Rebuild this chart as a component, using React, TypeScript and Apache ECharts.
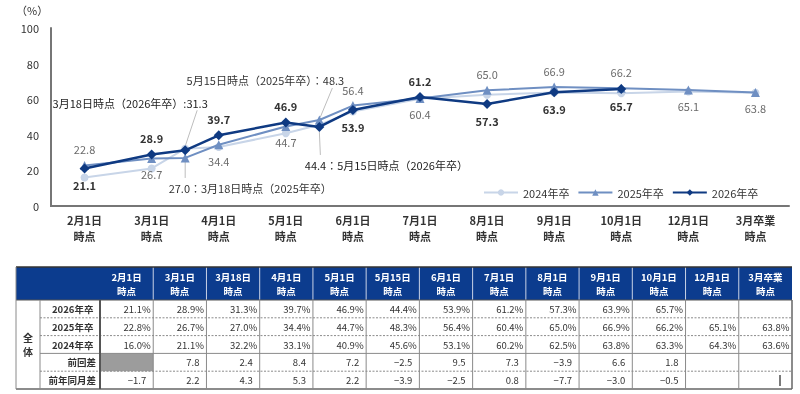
import React, { useEffect, useRef } from "react";
import * as echarts from "echarts";

// ---- data ----
const axisCategories = [
  "2月1日\n時点", "3月1日\n時点", "4月1日\n時点", "5月1日\n時点", "6月1日\n時点", "7月1日\n時点",
  "8月1日\n時点", "9月1日\n時点", "10月1日\n時点", "12月1日\n時点", "3月卒業\n時点",
];
const surveyPoints = [
  "2月1日\n時点", "3月1日\n時点", "3月18日\n時点", "4月1日\n時点", "5月1日\n時点", "5月15日\n時点",
  "6月1日\n時点", "7月1日\n時点", "8月1日\n時点", "9月1日\n時点", "10月1日\n時点", "12月1日\n時点", "3月卒業\n時点",
];
// survey dates placed on the category scale (3/18 and 5/15 fall between categories)
const surveyPos = [0, 1, 1.5, 2, 3, 3.5, 4, 5, 6, 7, 8, 9, 10];
const seriesNames = ["2024年卒", "2025年卒", "2026年卒"];
const grad2024: (number | null)[] = [16.0, 21.1, 32.2, 33.1, 40.9, 45.6, 53.1, 60.2, 62.5, 63.8, 63.3, 64.3, 63.6];
const grad2025: (number | null)[] = [22.8, 26.7, 27.0, 34.4, 44.7, 48.3, 56.4, 60.4, 65.0, 66.9, 66.2, 65.1, 63.8];
const grad2026: (number | null)[] = [21.1, 28.9, 31.3, 39.7, 46.9, 44.4, 53.9, 61.2, 57.3, 63.9, 65.7, null, null];
const diffPrev: (number | null)[] = [null, 7.8, 2.4, 8.4, 7.2, -2.5, 9.5, 7.3, -3.9, 6.6, 1.8, null, null];
const diffYoY: (number | null)[] = [-1.7, 2.2, 4.3, 5.3, 2.2, -3.9, -2.5, 0.8, -7.7, -3.0, -0.5, null, null];
const yTicks = { min: 0, max: 100, step: 20 };
const tableGroup = "全体";
const rowLabels = ["2026年卒", "2025年卒", "2024年卒", "前回差", "前年同月差"];

const FONT = '"Noto Sans CJK JP", "Noto Sans", sans-serif';
const C2024 = "#c8d5e8";
const C2025 = "#6f8fc2";
const C2026 = "#0f3a82";
const AXIS = "#767676";

export default function App() {
  const ref = useRef<HTMLDivElement>(null);

  useEffect(() => {
    document.body.style.margin = "0";
    const chart = echarts.init(ref.current!, null, { renderer: "svg" });

    // label layout (not data)
    const pos2026 = ["bottom", "top", "ann", "top", "top", "ann", "bottom", "top", "bottom", "bottom", "bottom"];
    const pos2025 = ["top", "bottom", "ann", "bottom", "bottom", "ann", "top", "bottom", "top", "top", "top", "bottom", "bottom"];

    const fmt = (v: number) => v.toFixed(1);

    const data2024 = grad2024
      .map((v, i) => (v == null ? null : { value: [surveyPos[i], v] }))
      .filter(Boolean);

    const data2026 = grad2026
      .map((v, i) => {
        if (v == null) return null;
        const base: any = {
          show: true, fontSize: 11, fontFamily: FONT, color: "#333", fontWeight: "bold",
          distance: 6, formatter: fmt(v),
        };
        if (i === 2) {
          Object.assign(base, { position: "top", offset: [-55, -31], formatter: `3月18日時点（2026年卒）:${fmt(v)}`, fontWeight: "normal", color: "#222" });
        } else if (i === 5) {
          Object.assign(base, { position: "bottom", offset: [67, 22], formatter: `${fmt(v)}：5月15日時点（2026年卒）`, fontWeight: "normal", color: "#222" });
        } else {
          base.position = pos2026[i];
        }
        return { value: [surveyPos[i], v], label: base };
      })
      .filter(Boolean);

    const data2025 = grad2025
      .map((v, i) => {
        if (v == null) return null;
        const base: any = {
          show: true, fontSize: 11, fontFamily: FONT, color: "#6b6b6b", distance: 6, formatter: fmt(v),
        };
        if (i === 2) {
          Object.assign(base, { position: "bottom", offset: [65, 14], formatter: `${fmt(v)}：3月18日時点（2025年卒）`, color: "#333" });
        } else if (i === 5) {
          Object.assign(base, { position: "top", offset: [-54, -24], formatter: `5月15日時点（2025年卒）：${fmt(v)}`, color: "#333" });
        } else {
          base.position = pos2025[i];
        }
        return { value: [surveyPos[i], v], label: base };
      })
      .filter(Boolean);

    const option: any = {
      animation: false,
      textStyle: { fontFamily: FONT },
      grid: { left: 51, right: 11, top: 28, bottom: 188 },
      legend: {
        data: seriesNames,
        left: 478,
        top: 182,
        itemWidth: 34,
        itemHeight: 8,
        itemGap: 8,
        textStyle: { fontSize: 11, color: "#333", fontFamily: FONT },
      },
      xAxis: [
        {
          type: "category",
          data: axisCategories,
          boundaryGap: true,
          axisLine: { show: true, onZero: false, lineStyle: { color: AXIS, width: 2 } },
          axisTick: { show: false },
          axisLabel: { fontSize: 11, lineHeight: 16, color: "#333", margin: 6, fontWeight: "bold", fontFamily: FONT, interval: 0 },
        },
        { type: "value", min: -0.5, max: 10.5, show: false },
      ],
      yAxis: {
        type: "value",
        min: yTicks.min,
        max: yTicks.max,
        interval: yTicks.step,
        axisLine: { show: true, onZero: false, lineStyle: { color: AXIS, width: 2 } },
        axisTick: { show: false },
        splitLine: { show: false },
        axisLabel: { fontSize: 11, color: "#333", margin: 12, fontFamily: FONT },
      },
      series: [
        {
          name: seriesNames[0], type: "line", xAxisIndex: 1, data: data2024, z: 2,
          symbol: "circle", symbolSize: 8, color: C2024,
          lineStyle: { width: 2, color: C2024 }, itemStyle: { color: C2024 },
        },
        {
          name: seriesNames[1], type: "line", xAxisIndex: 1, data: data2025, z: 3,
          symbol: "triangle", symbolSize: 9, color: C2025,
          lineStyle: { width: 2, color: C2025 }, itemStyle: { color: C2025 },
        },
        {
          name: seriesNames[2], type: "line", xAxisIndex: 1, data: data2026, z: 4,
          symbol: "diamond", symbolSize: 10, color: C2026,
          lineStyle: { width: 2.5, color: C2026 }, itemStyle: { color: C2026 },
        },
      ],
    };
    chart.setOption(option);

    // ---- graphics: title, leader lines, table ----
    const g: any[] = [];
    g.push({ type: "text", x: 16, y: 4, style: { text: "（%）", fontSize: 11, fontFamily: FONT, fill: "#333" } });

    const px = (pos: number, v: number) => chart.convertToPixel({ xAxisIndex: 1, yAxisIndex: 0 }, [pos, v]) as number[];
    // backup axis frame along the plot's left and bottom edges
    const a0 = px(-0.5, yTicks.min);
    const a1 = px(-0.5, yTicks.max);
    const a2 = px(10.5, yTicks.min);
    g.push({ type: "rect", shape: { x: a0[0] - 1, y: a1[1], width: 2, height: a0[1] - a1[1] + 1 }, style: { fill: AXIS }, z: 10 });
    g.push({ type: "rect", shape: { x: a0[0] - 1, y: a0[1] - 1, width: a2[0] - a0[0] + 1, height: 2 }, style: { fill: AXIS }, z: 10 });

    const leader = (a: number[], b: number[]) =>
      g.push({ type: "line", shape: { x1: a[0], y1: a[1], x2: b[0], y2: b[1] }, style: { stroke: "#bdbdbd", lineWidth: 1 }, z: 1 });
    const p1 = px(surveyPos[2], grad2026[2]!);
    leader([p1[0], p1[1] - 4], [p1[0] + 12, p1[1] - 40]);
    const p2 = px(surveyPos[2], grad2025[2]!);
    leader([p2[0], p2[1] + 4], [p2[0], p2[1] + 20]);
    const p3 = px(surveyPos[5], grad2025[5]!);
    leader([p3[0] + 1, p3[1] - 3], [p3[0] + 13, p3[1] - 32]);
    const p4 = px(surveyPos[5], grad2026[5]!);
    leader([p4[0], p4[1] + 5], [p4[0] + 1, p4[1] + 28]);

    // table layout
    const L = 16, R = 792, TOP = 267, HEAD = 33, ROWH = 17.8, C0 = 40, C1 = 100;
    const nCols = surveyPoints.length;
    const colW = (R - C1) / nCols;
    const bodyTop = TOP + HEAD;
    const bottom = bodyTop + ROWH * rowLabels.length;
    const line = (x1: number, y1: number, x2: number, y2: number, stroke: string, lw = 1, dash?: number[]) =>
      g.push({ type: "line", shape: { x1, y1, x2, y2 }, style: { stroke, lineWidth: lw, lineDash: dash } });
    const text = (x: number, y: number, t: string, opts: any) =>
      g.push({ type: "text", x, y, style: { text: t, fontFamily: FONT, verticalAlign: "middle", ...opts } });

    g.push({ type: "rect", shape: { x: L, y: TOP, width: R - L, height: HEAD }, style: { fill: "#0c3c8e" } });
    // gray cell: first 前回差 has no previous survey
    g.push({ type: "rect", shape: { x: C1, y: bodyTop + ROWH * 3, width: colW, height: ROWH }, style: { fill: "#9c9c9c" } });

    for (let i = 0; i < nCols; i++) {
      const cx = C1 + colW * i + colW / 2;
      text(cx, TOP + HEAD / 2 + 0.5, surveyPoints[i], { fill: "#fff", fontSize: 9.5, fontWeight: "bold", align: "center", lineHeight: 14 });
      if (i > 0) line(C1 + colW * i, TOP, C1 + colW * i, TOP + HEAD, "#c9d2e6", 1);
    }
    // horizontal lines
    line(L, TOP, R, TOP, "#333", 1.5);
    line(L, bodyTop, R, bodyTop, "#555", 1);
    for (let k = 1; k < rowLabels.length; k++) {
      const y = bodyTop + ROWH * k;
      if (k === 3) line(C0, y, R, y, "#8a8a8a", 1);
      else line(C0, y, R, y, "#8a8a8a", 1, [2, 1.5]);
    }
    line(L, bottom, R, bottom, "#666", 1.5);
    // vertical lines
    line(L, TOP, L, bottom, "#8a8a8a", 1);
    line(C0, bodyTop, C0, bottom, "#8a8a8a", 1);
    line(C1, bodyTop, C1, bottom, "#555", 2);
    for (let i = 1; i <= nCols; i++) {
      const x = C1 + colW * i;
      line(x, bodyTop, x, bottom, i === nCols ? "#666" : "#8a8a8a", i === nCols ? 1.5 : 1);
    }
    // group label
    text((L + C0) / 2, (bodyTop + bottom) / 2, tableGroup.split("").join("\n"), { fill: "#333", fontSize: 10, fontWeight: "bold", align: "center", lineHeight: 14 });
    // row labels
    rowLabels.forEach((lab, r) => {
      const y = bodyTop + ROWH * r + ROWH / 2;
      if (r < 3) text(C0 + 12, y, lab, { fill: "#333", fontSize: 9.5, fontWeight: "bold", align: "left" });
      else text(C1 - 4, y, lab, { fill: "#333", fontSize: 9.5, fontWeight: "bold", align: "right" });
    });
    // cell values
    const rows = [grad2026, grad2025, grad2024];
    rows.forEach((arr, r) => {
      const y = bodyTop + ROWH * r + ROWH / 2;
      arr.forEach((v, i) => {
        if (v == null) return;
        text(C1 + colW * (i + 1) - 2.5, y, `${v.toFixed(1)}%`, { fill: "#333", fontSize: 9.5, align: "right" });
      });
    });
    const sign = (v: number) => (v < 0 ? `−${Math.abs(v).toFixed(1)}` : v.toFixed(1));
    [diffPrev, diffYoY].forEach((arr, k) => {
      const y = bodyTop + ROWH * (3 + k) + ROWH / 2;
      arr.forEach((v, i) => {
        if (v == null) return;
        text(C1 + colW * (i + 1) - 7, y, sign(v), { fill: "#333", fontSize: 9.5, align: "right" });
      });
    });
    // stray cursor mark in the last cell
    line(C1 + colW * nCols - 12, bottom - 14, C1 + colW * nCols - 12, bottom - 3, "#222", 1.2);

    chart.setOption({ graphic: g });

    return () => chart.dispose();
  }, []);

  return <div ref={ref} style={{ position: "fixed", left: 0, top: 0, width: 800, height: 394 }} />;
}
